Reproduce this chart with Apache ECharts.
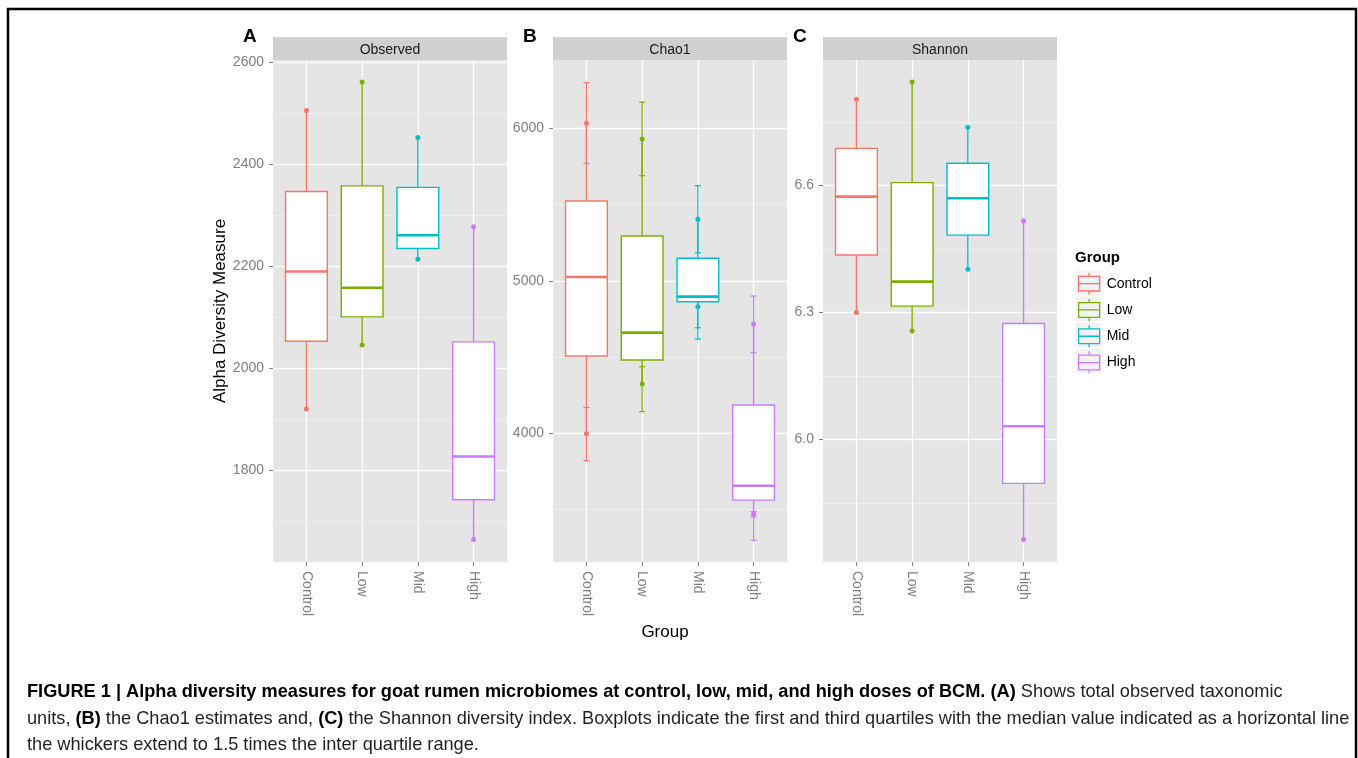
<!DOCTYPE html>
<html>
<head>
<meta charset="utf-8">
<script src="https://cdn.jsdelivr.net/npm/echarts@6/dist/echarts.min.js"></script>
<style>
  html, body { margin: 0; padding: 0; background: #fff; }
  #main { width: 1358px; height: 758px; }
</style>
</head>
<body>
<div id="main"></div>
<script>
var groups = ['Control', 'Low', 'Mid', 'High'];
var colors = ['#F8766D', '#7CAE00', '#00BFC4', '#C77CFF'];

// boxes: [lower whisker, Q1, median, Q3, upper whisker]
var observedBox = [
  [1920, 2053, 2190, 2347, 2506],
  [2046, 2101, 2158, 2358, 2562],
  [2214, 2235, 2261, 2355, 2453],
  [1664, 1742, 1827, 2052, 2278]
];
var observedPts = [[2506, 1920], [2562, 2046], [2453, 2214], [2278, 1664]];

var chao1Box = [
  [3997, 4507, 5025, 5523, 6033],
  [4323, 4481, 4660, 5294, 5930],
  [4830, 4863, 4896, 5148, 5403],
  [3469, 3562, 3656, 4186, 4717]
];
var chao1Pts = [[6033, 3997], [5930, 4323], [5403, 4830], [4717, 3469]];
// error bars [low, high]
var chao1Err = [
  [[5770, 6299], [3820, 4170]],
  [[5689, 6172], [4142, 4437]],
  [[5184, 5624], [4618, 5042], [4692, 5110]],
  [[4529, 4900], [3452, 3486], [3298, 3640]]
];

var shannonBox = [
  [6.300, 6.436, 6.574, 6.688, 6.804],
  [6.256, 6.315, 6.373, 6.607, 6.845],
  [6.402, 6.483, 6.570, 6.653, 6.738],
  [5.763, 5.896, 6.031, 6.274, 6.517]
];
var shannonPts = [[6.804, 6.300], [6.845, 6.256], [6.738, 6.402], [6.517, 5.763]];

var observedTicks = [1800, 2000, 2200, 2400, 2600];
var observedMinor = [1700, 1900, 2100, 2300, 2500];
var chao1Ticks = [4000, 5000, 6000];
var chao1Minor = [3500, 4500, 5500];
var shannonTicks = [6.0, 6.3, 6.6];
var shannonMinor = [5.85, 6.15, 6.45, 6.75];

var FONT = 'Liberation Sans, Arial, sans-serif';

var panels = [
  {letter: 'A', strip: 'Observed', left: 273, box: observedBox, pts: observedPts, err: null,
   min: 1620, max: 2605, ticks: observedTicks, minor: observedMinor, fmt: function (v) { return v; }},
  {letter: 'B', strip: 'Chao1', left: 553, box: chao1Box, pts: chao1Pts, err: chao1Err,
   min: 3156, max: 6448, ticks: chao1Ticks, minor: chao1Minor, fmt: function (v) { return v; }},
  {letter: 'C', strip: 'Shannon', left: 823, box: shannonBox, pts: shannonPts, err: null,
   min: 5.710, max: 6.897, ticks: shannonTicks, minor: shannonMinor, fmt: function (v) { return (+v).toFixed(1); }}
];

function renderBox(params, api) {
  var x = api.value(0);
  var c = api.visual('color');
  var p = [1, 2, 3, 4, 5].map(function (i) { return api.coord([x, api.value(i)]); });
  var half = api.size([0.75, 0])[0] / 2;
  var cx = p[0][0];
  return {
    type: 'group',
    children: [
      {type: 'line', shape: {x1: cx, y1: p[4][1], x2: cx, y2: p[3][1]}, style: {stroke: c, lineWidth: 1.4}},
      {type: 'line', shape: {x1: cx, y1: p[1][1], x2: cx, y2: p[0][1]}, style: {stroke: c, lineWidth: 1.4}},
      {type: 'rect', shape: {x: cx - half, y: p[3][1], width: 2 * half, height: p[1][1] - p[3][1]},
       style: {fill: '#fff', stroke: c, lineWidth: 1.4}},
      {type: 'line', shape: {x1: cx - half, y1: p[2][1], x2: cx + half, y2: p[2][1]}, style: {stroke: c, lineWidth: 2.6}}
    ]
  };
}

function renderErr(params, api) {
  var x = api.value(0);
  var c = api.visual('color');
  var lo = api.coord([x, api.value(1)]);
  var hi = api.coord([x, api.value(2)]);
  var half = api.size([0.11, 0])[0] / 2;
  return {
    type: 'group',
    children: [
      {type: 'line', shape: {x1: lo[0], y1: lo[1], x2: hi[0], y2: hi[1]}, style: {stroke: c, lineWidth: 1.2}},
      {type: 'line', shape: {x1: lo[0] - half, y1: lo[1], x2: lo[0] + half, y2: lo[1]}, style: {stroke: c, lineWidth: 1.2}},
      {type: 'line', shape: {x1: hi[0] - half, y1: hi[1], x2: hi[0] + half, y2: hi[1]}, style: {stroke: c, lineWidth: 1.2}}
    ]
  };
}

var grids = [], xAxes = [], yAxes = [], series = [], graphics = [];

panels.forEach(function (pn, p) {
  grids.push({
    left: pn.left, top: 60, width: 234, height: 502,
    show: true, backgroundColor: '#E5E5E5', borderWidth: 0
  });
  xAxes.push({
    gridIndex: p, type: 'value', min: 0.4, max: 4.6,
    axisLine: {show: false},
    axisTick: {show: true, length: 4, lineStyle: {color: '#7F7F7F'}, customValues: [1, 2, 3, 4]},
    axisLabel: {
      customValues: [1, 2, 3, 4], rotate: -90, margin: 9,
      color: '#7F7F7F', fontSize: 14, fontFamily: FONT,
      formatter: function (v) { return groups[Math.round(v) - 1]; }
    },
    splitLine: {show: true, lineStyle: {color: '#FFFFFF', width: 1.3}}
  });
  yAxes.push({
    gridIndex: p, type: 'value', min: pn.min, max: pn.max,
    name: p === 0 ? 'Alpha Diversity Measure' : '',
    nameLocation: 'middle', nameGap: 35, nameRotate: 90,
    nameTextStyle: {color: '#000', fontSize: 17, fontFamily: FONT},
    axisLine: {show: false},
    axisTick: {show: true, length: 4, lineStyle: {color: '#7F7F7F'}, customValues: pn.ticks},
    axisLabel: {customValues: pn.ticks, color: '#7F7F7F', fontSize: 14, fontFamily: FONT, margin: 9, formatter: pn.fmt},
    splitLine: {show: true, lineStyle: {color: '#FFFFFF', width: 1.3}}
  });
  yAxes.push({
    gridIndex: p, type: 'value', min: pn.min, max: pn.max, position: 'left',
    axisLine: {show: false},
    axisTick: {show: false, customValues: pn.minor},
    axisLabel: {show: false},
    splitLine: {show: true, lineStyle: {color: '#F4F4F4', width: 0.7}}
  });

  groups.forEach(function (g, i) {
    if (pn.err) {
      series.push({
        type: 'custom', name: g, xAxisIndex: p, yAxisIndex: 2 * p, z: 2,
        itemStyle: {color: colors[i]},
        renderItem: renderErr,
        encode: {x: 0, y: [1, 2]},
        data: pn.err[i].map(function (e) { return [i + 1, e[0], e[1]]; })
      });
    }
    series.push({
      type: 'scatter', name: g, xAxisIndex: p, yAxisIndex: 2 * p, z: 3,
      symbolSize: 5, itemStyle: {color: colors[i], opacity: 1},
      data: pn.pts[i].map(function (v) { return [i + 1, v]; })
    });
    series.push({
      type: 'custom', name: g, xAxisIndex: p, yAxisIndex: 2 * p, z: 4,
      itemStyle: {color: colors[i]},
      renderItem: renderBox,
      encode: {x: 0, y: [1, 2, 3, 4, 5]},
      data: [[i + 1].concat(pn.box[i])]
    });
  });

  // facet strip and panel letter
  graphics.push({type: 'rect', shape: {x: pn.left, y: 37, width: 234, height: 23}, style: {fill: '#D0D0D0'}});
  graphics.push({type: 'text', x: pn.left + 117, y: 50,
    style: {text: pn.strip, fill: '#1A1A1A', fontSize: 14, fontFamily: FONT, align: 'center', verticalAlign: 'middle'}});
  graphics.push({type: 'text', x: pn.left - 30, y: 37,
    style: {text: pn.letter, fill: '#000', fontSize: 19, fontWeight: 'bold', fontFamily: FONT, align: 'left', verticalAlign: 'middle'}});
});

graphics.push({type: 'text', x: 665, y: 632,
  style: {text: 'Group', fill: '#000', fontSize: 17, fontFamily: FONT, align: 'center', verticalAlign: 'middle'}});

// legend title and key backgrounds
graphics.push({type: 'text', x: 1075, y: 258,
  style: {text: 'Group', fill: '#000', fontSize: 15, fontWeight: 'bold', fontFamily: FONT, align: 'left', verticalAlign: 'middle'}});
groups.forEach(function (g, i) {
  graphics.push({type: 'rect', z: 1, shape: {x: 1076, y: 271 + i * 26, width: 25, height: 24}, style: {fill: '#F2F2F2'}});
});

// caption
var CAP = 18.2;
var rich = {
  b: {fontSize: CAP, fontFamily: FONT, fontWeight: 'bold', fill: '#000'},
  n: {fontSize: CAP, fontFamily: FONT, fill: '#231F20'}
};
var capLines = [
  '{b|FIGURE 1 | Alpha diversity measures for goat rumen microbiomes at control, low, mid, and high doses of BCM. (A)}{n| Shows total observed taxonomic}',
  '{n|units, }{b|(B)}{n| the Chao1 estimates and, }{b|(C)}{n| the Shannon diversity index. Boxplots indicate the first and third quartiles with the median value indicated as a horizontal line}',
  '{n|the whickers extend to 1.5 times the inter quartile range.}'
];
capLines.forEach(function (t, i) {
  graphics.push({type: 'text', x: 27, y: 692 + i * 26.5,
    style: {text: t, rich: rich, fontSize: CAP, fontFamily: FONT, fill: '#231F20', align: 'left', verticalAlign: 'middle'}});
});

// outer frame
graphics.push({type: 'rect', shape: {x: 8, y: 9, width: 1348, height: 770},
  style: {fill: 'none', stroke: '#000', lineWidth: 2.5}});

var chart = echarts.init(document.getElementById('main'));
chart.setOption({
  backgroundColor: '#fff',
  animation: false,
  grid: grids,
  xAxis: xAxes,
  yAxis: yAxes,
  legend: {
    orient: 'vertical', left: 1078, top: 272, padding: 0,
    itemWidth: 21, itemHeight: 22, itemGap: 3,
    icon: 'path://M12,0V4M2,4H22V20H2ZM2,12H22M12,20V24',
    symbolKeepAspect: false,
    textStyle: {color: '#000', fontSize: 14, fontFamily: FONT, padding: [0, 0, 0, 2]},
    selectedMode: false,
    data: groups.map(function (g, i) {
      return {name: g, itemStyle: {color: 'rgba(0,0,0,0)', borderColor: colors[i], borderWidth: 1.3}};
    })
  },
  graphic: graphics,
  series: series
});
</script>
</body>
</html>
